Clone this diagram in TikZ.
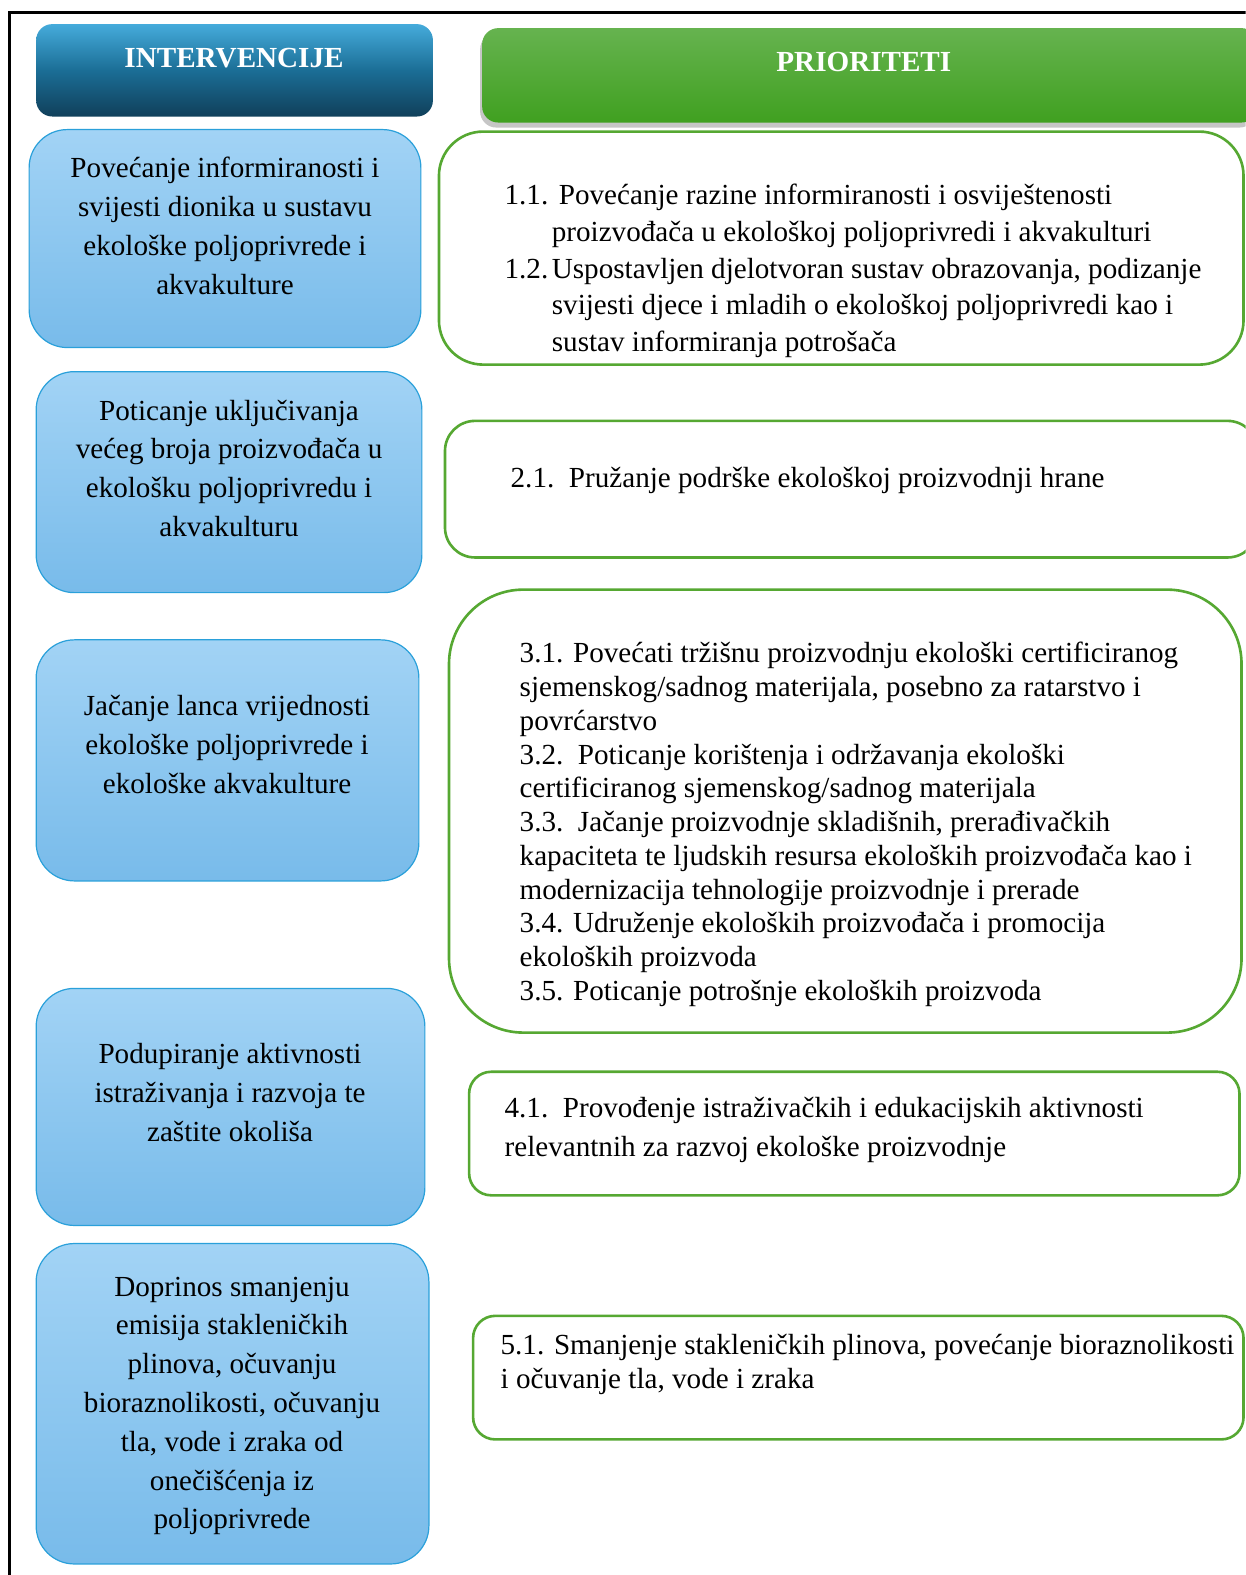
\documentclass[tikz,border=0pt]{standalone}
\usepackage{fontspec}
\setmainfont{Liberation Serif}
\usetikzlibrary{fit,shadows}

\definecolor{intborder}{HTML}{2AA0DA}
\definecolor{inttop}{HTML}{A2D3F5}
\definecolor{intbot}{HTML}{78BBEA}
\definecolor{hdtop}{HTML}{45ABDB}
\definecolor{hdmid}{HTML}{1B6E96}
\definecolor{hdbot}{HTML}{103F5A}
\definecolor{prtop}{HTML}{66B34F}
\definecolor{prbot}{HTML}{40A020}
\definecolor{prborder}{HTML}{56A832}

\tikzstyle{intbox}=[draw=intborder, line width=0.6pt, top color=inttop, bottom color=intbot, inner sep=0pt]
\tikzstyle{pribox}=[draw=prborder, line width=1.3pt, fill=white, inner sep=0pt]
\tikzstyle{inthead}=[top color=hdtop, bottom color=hdbot, middle color=hdmid, rounded corners=8pt, inner sep=0pt]
\tikzstyle{prihead}=[top color=prtop, bottom color=prbot, rounded corners=8pt, inner sep=0pt, drop shadow={opacity=0.45, shadow xshift=-1pt, shadow yshift=-2.5pt}]
\tikzstyle{headtext}=[anchor=base, inner sep=0pt, text=white, font=\fontsize{14.5}{17}\selectfont\bfseries]
\tikzstyle{inttext}=[anchor=base, align=center, inner sep=0pt, font=\fontsize{14.5}{19.3}\selectfont]
\tikzstyle{pritext}=[anchor=base west, align=left, inner sep=0pt]

\newcommand{\ind}{\hspace*{23.5pt}}

\begin{document}
\begin{tikzpicture}[x=0.5pt, y=-0.5pt]
	\clip (0,0) rectangle (1240,1568);
	%Frame
	\draw[line width=1.5pt] (1250,12) -- (9,12) -- (9,1580);
	%Headers
	\node[inthead, fit={(36,24) (431,116)}] (inthead) {};
	\node[prihead, fit={(480,28) (1252,122)}] (prihead) {};
	\node[headtext] (intlabel) at (233,67) {INTERVENCIJE};
	\node[headtext] (prilabel) at (860,71) {PRIORITETI};
	%Left boxes
	\foreach \name/\pa/\pb in {{int1/{(29,129)}/{(419,346)}}, {int2/{(36,370)}/{(420,590)}},
		{int3/{(36,637)}/{(417,877)}}, {int4/{(36,984)}/{(423,1220)}},
		{int5/{(36,1238)}/{(427,1557)}}}
	\node[intbox, rounded corners=19pt, fit={\pa \pb}] (\name) {};
	%Right boxes
	\foreach \name/\pa/\pb/\r in {{pri1/{(437,131)}/{(1238,363)}/22pt}, {pri2/{(443,419)}/{(1252,555)}/15pt},
		{pri3/{(447,587)}/{(1236,1028)}/37pt}, {pri4/{(467,1067)}/{(1234,1190)}/11pt},
		{pri5/{(471,1310)}/{(1238,1433)}/11pt}}
	\node[pribox, rounded corners=\r, fit={\pa \pb}] (\name) {};
	%Left texts (placed by the baseline of their last line)
	\node[inttext] (int1text) at (224,293) {Povećanje informiranosti i\\ svijesti dionika u sustavu\\ ekološke poljoprivrede i\\ akvakulture};
	\node[inttext] (int2text) at (228,534) {Poticanje uključivanja\\ većeg broja proizvođača u\\ ekološku poljoprivredu i\\ akvakulturu};
	\node[inttext] (int3text) at (226,790) {Jačanje lanca vrijednosti\\ ekološke poljoprivrede i\\ ekološke akvakulture};
	\node[inttext] (int4text) at (229,1136) {Podupiranje aktivnosti\\ istraživanja i razvoja te\\ zaštite okoliša};
	\node[inttext] (int5text) at (231,1522) {Doprinos smanjenju\\ emisija stakleničkih\\ plinova, očuvanju\\ bioraznolikosti, očuvanju\\ tla, vode i zraka od\\ onečišćenja iz\\ poljoprivrede};
	%Right texts
	\node[pritext, font=\fontsize{14.5}{18.25}\selectfont] (pri1text) at (502,350)
		{\makebox[23.5pt][l]{1.1.}\hspace{3.5pt}Povećanje razine informiranosti i osviještenosti\\
		\ind proizvođača u ekološkoj poljoprivredi i akvakulturi\\
		\makebox[23.5pt][l]{1.2.}Uspostavljen djelotvoran sustav obrazovanja, podizanje\\
		\ind svijesti djece i mladih o ekološkoj poljoprivredi kao i\\
		\ind sustav informiranja potrošača};
	\node[pritext, font=\fontsize{14.5}{18}\selectfont] (pri2text) at (508,485)
		{2.1.\ \ Pružanje podrške ekološkoj proizvodnji hrane};
	\node[pritext, font=\fontsize{14.5}{16.8}\selectfont] (pri3text) at (517,996)
		{3.1. Povećati tržišnu proizvodnju ekološki certificiranog\\
		sjemenskog/sadnog materijala, posebno za ratarstvo i\\
		povrćarstvo\\
		3.2.\ \ Poticanje korištenja i održavanja ekološki\\
		certificiranog sjemenskog/sadnog materijala\\
		3.3.\ \ Jačanje proizvodnje skladišnih, prerađivačkih\\
		kapaciteta te ljudskih resursa ekoloških proizvođača kao i\\
		modernizacija tehnologije proizvodnje i prerade\\
		3.4. Udruženje ekoloških proizvođača i promocija\\
		ekoloških proizvoda\\
		3.5. Poticanje potrošnje ekoloških proizvoda};
	\node[pritext, font=\fontsize{14.5}{19}\selectfont] (pri4text) at (502,1151)
		{4.1.\ \ Provođenje istraživačkih i edukacijskih aktivnosti\\
		relevantnih za razvoj ekološke proizvodnje};
	\node[pritext, font=\fontsize{14.5}{17}\selectfont] (pri5text) at (498,1382)
		{5.1. Smanjenje stakleničkih plinova, povećanje bioraznolikosti\\
		i očuvanje tla, vode i zraka};
\end{tikzpicture}
\end{document}
